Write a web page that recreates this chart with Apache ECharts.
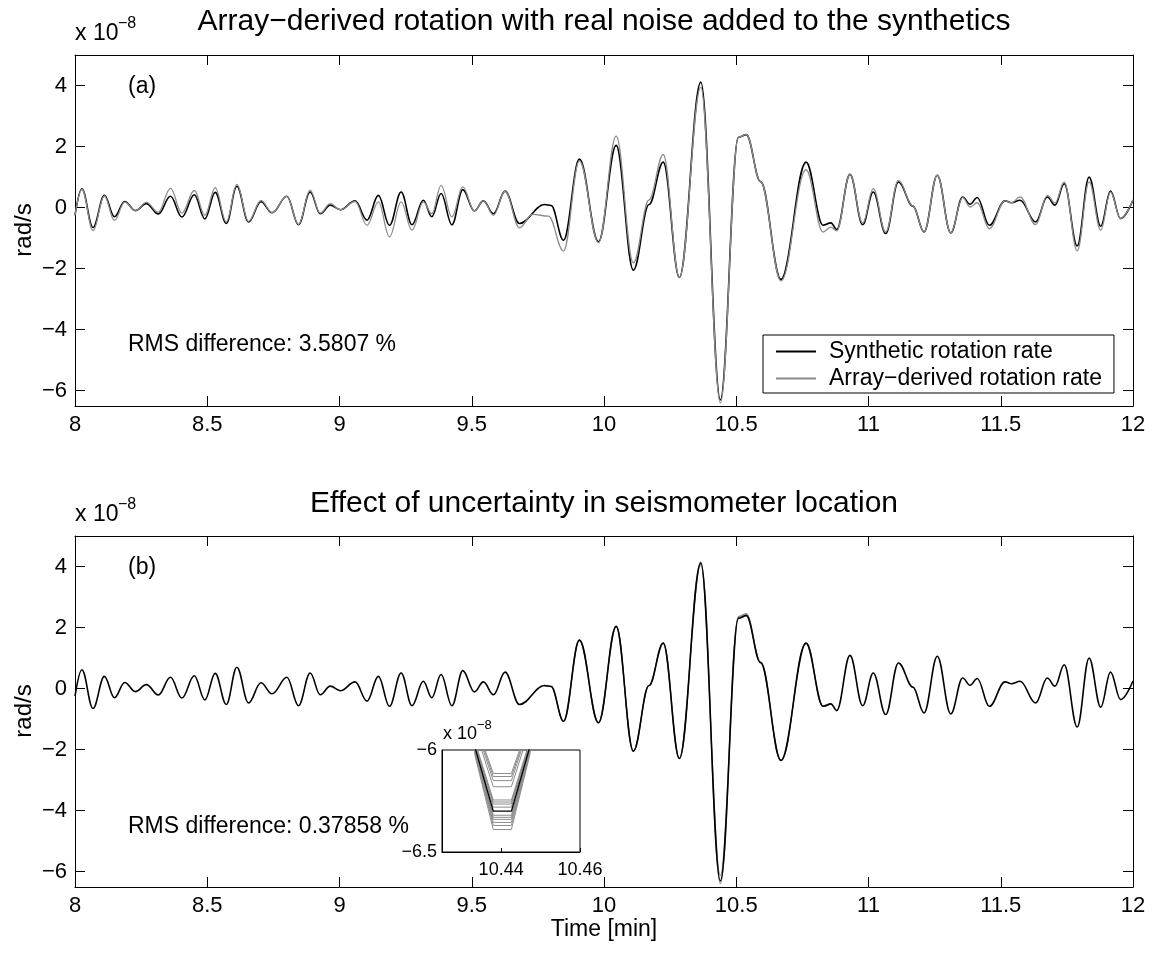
<!DOCTYPE html>
<html><head><meta charset="utf-8">
<script src="https://cdn.jsdelivr.net/npm/echarts@6/dist/echarts.min.js"></script>
<style>html,body{margin:0;padding:0;background:#fff}#c{width:1155px;height:953px}</style>
</head><body><div id="c"></div>
<script>
// ---- data (values in units of 1e-8 rad/s, time in minutes) ----
const synTime = [8.000,8.026,8.068,8.111,8.149,8.188,8.228,8.270,8.315,8.361,8.404,8.451,8.491,8.530,8.572,8.612,8.656,8.703,8.745,8.801,8.845,8.889,8.927,8.965,9.003,9.059,9.104,9.147,9.189,9.233,9.274,9.317,9.349,9.384,9.425,9.466,9.510,9.544,9.582,9.626,9.680,9.775,9.800,9.847,9.907,9.979,10.046,10.111,10.170,10.224,10.285,10.366,10.440,10.508,10.538,10.592,10.669,10.764,10.828,10.858,10.880,10.930,10.978,11.018,11.065,11.113,11.168,11.210,11.260,11.311,11.356,11.384,11.411,11.457,11.516,11.541,11.573,11.632,11.676,11.705,11.740,11.789,11.834,11.878,11.915,11.953,12.000];
const synVal = [-0.25,0.62,-0.65,0.40,-0.30,0.20,-0.10,0.13,-0.21,0.37,-0.31,0.42,-0.37,0.50,-0.52,0.70,-0.47,0.19,-0.17,0.37,-0.56,0.51,-0.20,0.08,-0.07,0.22,-0.41,0.40,-0.58,0.51,-0.56,0.24,-0.30,0.46,-0.56,0.59,-0.11,0.22,-0.20,0.54,-0.52,0.10,0.07,-1.07,1.59,-1.12,2.04,-2.05,0.10,1.49,-2.29,4.11,-6.30,2.30,2.39,0.85,-2.35,1.49,-0.58,-0.50,-0.72,1.09,-0.56,0.51,-0.85,0.84,0.05,-0.80,1.06,-0.83,0.35,0.11,0.33,-0.58,0.22,0.16,0.24,-0.47,0.35,0.08,0.78,-1.26,1.00,-0.61,0.54,-0.36,0.25];
const arrTime = [8.000,8.026,8.068,8.111,8.149,8.188,8.228,8.270,8.315,8.361,8.404,8.451,8.491,8.530,8.572,8.612,8.656,8.703,8.745,8.801,8.845,8.889,8.927,8.965,9.003,9.059,9.104,9.147,9.189,9.233,9.274,9.317,9.349,9.384,9.425,9.466,9.510,9.544,9.582,9.626,9.680,9.730,9.790,9.847,9.907,9.979,10.046,10.111,10.170,10.224,10.285,10.366,10.440,10.508,10.538,10.592,10.669,10.764,10.828,10.858,10.880,10.930,10.978,11.018,11.065,11.113,11.168,11.210,11.260,11.311,11.356,11.384,11.411,11.457,11.516,11.541,11.573,11.632,11.676,11.705,11.740,11.789,11.834,11.878,11.915,11.953,12.000];
const arrVal = [-0.25,0.60,-0.75,0.38,-0.42,0.18,-0.10,0.17,-0.15,0.63,-0.18,0.56,-0.25,0.65,-0.47,0.76,-0.45,0.24,-0.16,0.37,-0.55,0.57,-0.18,0.13,-0.07,0.20,-0.58,0.19,-0.96,0.19,-0.74,0.19,-0.20,0.73,-0.30,0.68,-0.11,0.22,-0.25,0.54,-0.66,-0.22,-0.28,-1.42,1.53,-1.15,2.34,-1.81,0.25,1.74,-2.29,3.94,-6.40,2.30,2.40,0.85,-2.40,1.24,-0.80,-0.64,-0.76,1.09,-0.50,0.62,-0.80,0.89,0.05,-0.80,1.06,-0.83,0.33,0.02,0.16,-0.69,0.22,0.16,0.35,-0.56,0.40,0.15,0.84,-1.42,0.84,-0.74,0.51,-0.36,0.25];
// location-uncertainty runs, main arrival (panel b)
const locTime = [9.775,9.800,9.847,9.907,9.979,10.046,10.111,10.170,10.224,10.285,10.366,10.440,10.508,10.538,10.592,10.669,10.764,10.828,10.858];
const locValA = [0.10,0.07,-1.07,1.59,-1.12,2.04,-2.05,0.10,1.49,-2.29,4.05,-6.12,2.36,2.46,0.88,-2.35,1.49,-0.58,-0.50];
const locValB = [0.10,0.07,-1.07,1.59,-1.12,2.04,-2.05,0.10,1.49,-2.29,4.15,-6.39,2.33,2.43,0.85,-2.35,1.49,-0.58,-0.50];
// inset (zoom on the trough)
const insetTime = [10.4288,10.4334,10.4380,10.4426,10.4472,10.4518];
const insetSyn = [-5.4,-5.99,-6.30,-6.30,-5.99,-5.4];
const insetBottoms = [-6.115,-6.13,-6.15,-6.18,-6.245,-6.255,-6.265,-6.28,-6.32,-6.33,-6.34,-6.355,-6.37,-6.39];
const insetSides   = [-5.86,-5.87,-5.88,-5.90,-5.96,-5.97,-5.97,-5.98,-6.00,-6.00,-6.01,-6.01,-6.02,-6.03];
const yTicks = [-6,-4,-2,0,2,4];
const insetXTicks = [10.44,10.46];
const insetYTicks = [-6.5,-6];
const titles = ['Array\u2212derived rotation with real noise added to the synthetics','Effect of uncertainty in seismometer location'];
const legendNames = ['Synthetic rotation rate','Array\u2212derived rotation rate'];
const rmsTexts = ['RMS difference: 3.5807 %','RMS difference: 0.37858 %'];

const FONT = "'Liberation Sans', Arial, Helvetica, sans-serif";
const BLACK = '#000', GRAY = '#8c8c8c';
const fmt = v => String(+(+v).toFixed(3)).replace('-', '\u2212');
const pairs = (t, v) => t.map((x, i) => [x, v[i]]);

const axLine = {show:true, onZero:false, lineStyle:{color:'#000', width:1}};
function xAx(grid, pos, labels) {
  return {type:'value', gridIndex:grid, position:pos, min:8, max:12, interval:0.5,
    axisLine:axLine,
    axisTick:{show:true, inside:true, length:10, lineStyle:{color:'#000', width:1}},
    axisLabel:{show:labels, color:'#000', fontSize:22, fontFamily:FONT, margin:8, formatter:fmt, showMinLabel:true, showMaxLabel:true},
    splitLine:{show:false}};
}
function yAx(grid, pos, labels) {
  return {type:'value', gridIndex:grid, position:pos, min:-6.5, max:5,
    axisLine:axLine,
    axisTick:{show:true, inside:true, length:10, customValues:yTicks, lineStyle:{color:'#000', width:1}},
    axisLabel:{show:labels, customValues:yTicks, color:'#000', fontSize:22, fontFamily:FONT, margin:8, formatter:fmt},
    splitLine:{show:false}};
}
function line(name, xi, yi, data, color, width, smooth, z) {
  return {name, type:'line', xAxisIndex:xi, yAxisIndex:yi, data, symbol:'none', showSymbol:false,
    smooth: smooth ? 0.38 : false, smoothMonotone:'x', color, z: z || 2,
    lineStyle:{color, width}, itemStyle:{color}, animation:false, silent:true};
}
function txt(text, x, y, size, align, rot) {
  const e = {type:'text', x, y, silent:true, style:{text, fontSize:size, fontFamily:FONT, fill:'#000',
    textAlign:align || 'left', textVerticalAlign:'middle'}};
  if (rot) e.rotation = rot;
  return e;
}

const series = [
  line(legendNames[0], 0, 0, pairs(synTime, synVal), BLACK, 1.6, true),
  line(legendNames[1], 0, 0, pairs(arrTime, arrVal), GRAY, 1.3, true),
  line('locA', 2, 2, pairs(locTime, locValA), GRAY, 1.2, true),
  line('locB', 2, 2, pairs(locTime, locValB), GRAY, 1.2, true),
  line('synB', 2, 2, pairs(synTime, synVal), BLACK, 1.6, true)
];
insetBottoms.forEach((b, i) => {
  const s = insetSides[i];
  series.push(line('inset' + i, 4, 4, pairs(insetTime, [-5.4, s, b, b, s, -5.4]), GRAY, 1, false, 3));
});
series.push(line('insetSyn', 4, 4, pairs(insetTime, insetSyn), BLACK, 1.3, false, 4));

const option = {
  backgroundColor:'#fff',
  animation:false,
  grid:[
    {left:75, top:55, width:1058, height:351, show:false},
    {left:75, top:536, width:1058, height:351, show:false},
    {left:442, top:750, width:138, height:102, show:true, borderColor:'#000', borderWidth:1, backgroundColor:'#fff'}
  ],
  xAxis:[
    xAx(0,'bottom',true), xAx(0,'top',false), xAx(1,'bottom',true), xAx(1,'top',false),
    {type:'value', gridIndex:2, position:'bottom', min:10.425, max:10.46,
      axisLine:axLine,
      axisTick:{show:true, inside:true, length:4, customValues:insetXTicks, lineStyle:{color:'#000'}},
      axisLabel:{show:true, customValues:insetXTicks, color:'#000', fontSize:18, fontFamily:FONT, margin:9, formatter:v => (+v).toFixed(2)},
      splitLine:{show:false}}
  ],
  yAxis:[
    yAx(0,'left',true), yAx(0,'right',false), yAx(1,'left',true), yAx(1,'right',false),
    {type:'value', gridIndex:2, position:'left', min:-6.5, max:-6,
      axisLine:axLine,
      axisTick:{show:false},
      axisLabel:{show:true, customValues:insetYTicks, color:'#000', fontSize:18, fontFamily:FONT, margin:5, formatter:fmt},
      splitLine:{show:false}}
  ],
  legend:{
    data:legendNames, orient:'vertical', left:763, top:335, padding:[5,12,3,13], itemGap:4,
    itemWidth:40, itemHeight:2, icon:'rect', backgroundColor:'#fff', borderColor:'#000', borderWidth:1,
    textStyle:{fontSize:23, fontFamily:FONT, color:'#000', padding:[0,0,0,8]}, selectedMode:false
  },
  series,
  graphic:[
    txt(titles[0], 604, 22, 30, 'center'),
    txt(titles[1], 604, 504, 30, 'center'),
    txt('x 10', 75, 34, 23), txt('\u22128', 118, 24, 16),
    txt('x 10', 75, 515, 23), txt('\u22128', 118, 505, 16),
    txt('(a)', 128, 87, 23), txt('(b)', 128, 568, 23),
    txt(rmsTexts[0], 128, 345, 23), txt(rmsTexts[1], 128, 827, 23),
    txt('rad/s', 24, 230, 24, 'center', Math.PI/2),
    txt('rad/s', 24, 711, 24, 'center', Math.PI/2),
    txt('Time [min]', 604, 930, 23, 'center'),
    txt('x 10', 443, 734, 18), txt('\u22128', 477, 725, 13)
  ]
};
const chart = echarts.init(document.getElementById('c'), null, {renderer:'canvas'});
chart.setOption(option);
</script></body></html>
